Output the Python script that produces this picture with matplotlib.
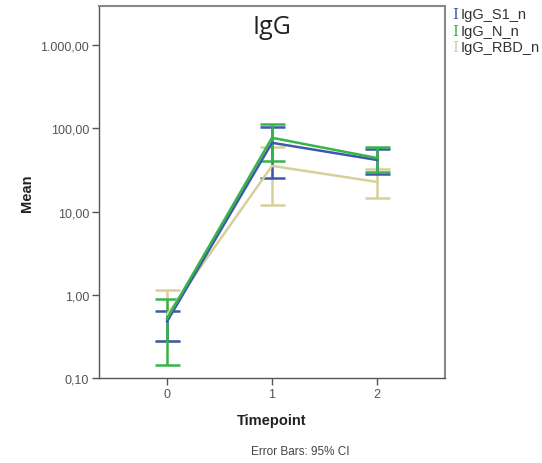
import matplotlib
matplotlib.use("Agg")
import matplotlib.pyplot as plt
import numpy as np

plt.rcParams['font.family'] = ['Liberation Sans', 'DejaVu Sans']

timepoints = [0, 1, 2]
series_names = ["IgG_S1_n", "IgG_N_n", "IgG_RBD_n"]
colors = {"IgG_S1_n": "#3E58AC", "IgG_N_n": "#36B44A", "IgG_RBD_n": "#D6D09C"}

s1_mean = [0.48, 67.0, 41.7]
s1_lower = [0.28, 25.4, 28.5]
s1_upper = [0.64, 104.0, 56.6]

n_mean = [0.52, 77.0, 44.0]
n_lower = [0.145, 40.5, 30.0]
n_upper = [0.89, 112.0, 60.0]

rbd_mean = [0.58, 35.4, 22.7]
rbd_lower = [0.28, 12.0, 14.6]
rbd_upper = [1.15, 60.0, 32.6]

yticks = [0.1, 1, 10, 100, 1000]
ytick_labels = ["0,10", "1,00", "10,00", "100,00", "1.000,00"]

data = {
    "IgG_S1_n": (s1_mean, s1_lower, s1_upper),
    "IgG_N_n": (n_mean, n_lower, n_upper),
    "IgG_RBD_n": (rbd_mean, rbd_lower, rbd_upper),
}

W, H = 542, 464
fig = plt.figure(figsize=(W / 100, H / 100), dpi=100)
ax = fig.add_axes([99 / W, 1 - 379 / H, (445 - 99) / W, (379 - 7) / H])

for name in ["IgG_RBD_n", "IgG_S1_n", "IgG_N_n"]:
    m, lo, up = (np.array(v) for v in data[name])
    ax.errorbar(timepoints, m, yerr=[m - lo, up - m], color=colors[name],
                lw=1.8, capsize=9, capthick=1.8, elinewidth=1.8)

ax.set_yscale("log")
ax.set_ylim(0.1, 2950)
ax.set_xlim(-0.65, 2.65)
ax.set_yticks(yticks)
ax.set_yticklabels(ytick_labels)
ax.yaxis.set_minor_locator(matplotlib.ticker.NullLocator())
ax.set_xticks(timepoints)
ax.set_xticklabels([str(t) for t in timepoints])
ax.tick_params(axis="both", direction="out", length=5, width=1, color="#555555",
               labelsize=9, labelcolor="#555555", pad=2)
for side in ["left", "bottom"]:
    ax.spines[side].set_color("#555555")
    ax.spines[side].set_linewidth(1.0)
for side in ["top", "right"]:
    ax.spines[side].set_color("#888888")
    ax.spines[side].set_linewidth(1.5)

ax.text(0.5, 1 - (28 - 7) / (379 - 7), "IgG", transform=ax.transAxes,
        ha="center", va="center", fontsize=18, color="#222222",
        family=["Open Sans", "DejaVu Sans"])

fig.text(272 / W, 1 - 421 / H, "Timepoint", ha="center", va="center",
         fontsize=10.5, fontweight="bold", color="#222222")
fig.text(27 / W, 1 - 193 / H, "Mean", ha="center", va="center", rotation=90,
         fontsize=10.5, fontweight="bold", color="#222222")
fig.text(300 / W, 1 - 452 / H, "Error Bars: 95% CI", ha="center", va="center",
         fontsize=8.5, color="#444444")

leg_y = [15, 32, 48]
for name, y in zip(series_names, leg_y):
    fig.text(455 / W, 1 - y / H, "I", ha="center", va="center", fontsize=11,
             color=colors[name], family=["DejaVu Serif"])
    fig.text(461 / W, 1 - y / H, name, ha="left", va="center", fontsize=10.5,
             color="#333333")

fig.savefig("out.png", dpi=100)
